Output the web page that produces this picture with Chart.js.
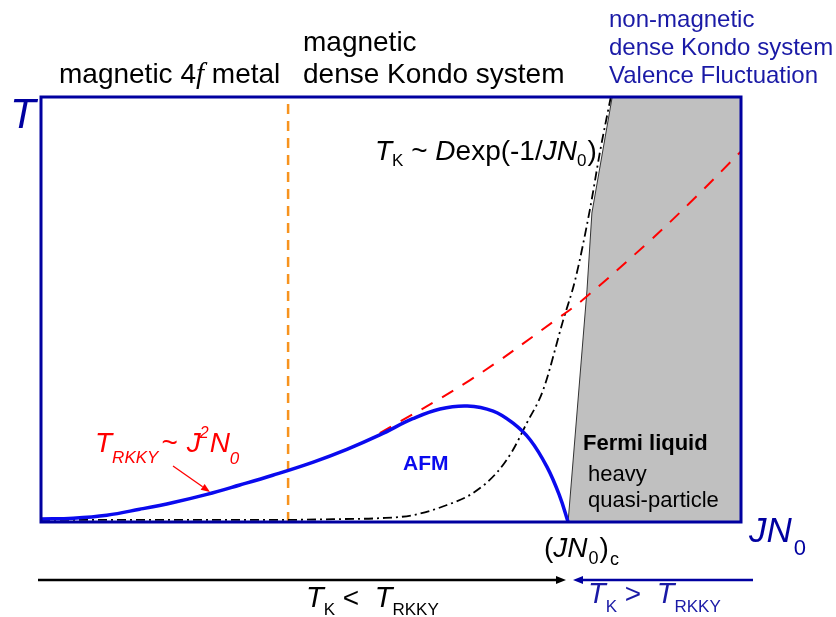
<!DOCTYPE html>
<html><head><meta charset="utf-8">
<script src="https://cdn.jsdelivr.net/npm/chart.js@4/dist/chart.umd.min.js"></script>
<style>html,body{margin:0;padding:0;background:#fff}#wrap{width:836px;height:617px}</style>
</head><body><div id="wrap"><canvas id="c" width="836" height="617"></canvas></div>
<script>
// JN0 (x, arbitrary units 0-10) and T (y, arbitrary units 0-10)
const afmX = [0, 0.46, 0.94, 1.41, 1.89, 2.37, 2.84, 3.31, 3.89, 4.37, 4.84, 5.31, 5.70, 6.09, 6.46, 6.74, 6.99, 7.23, 7.41, 7.53];
const afmT = [0.07, 0.09, 0.16, 0.30, 0.46, 0.65, 0.87, 1.10, 1.41, 1.71, 2.05, 2.43, 2.66, 2.73, 2.61, 2.33, 1.93, 1.29, 0.61, 0];
const rkkyX = [4.84, 6.13, 7.41, 7.77, 8.66, 9.27, 10];
const rkkyT = [2.09, 3.34, 4.82, 5.27, 6.56, 7.51, 8.72];
const kondoX = [0, 1.5, 3.41, 4.3, 4.84, 5.31, 5.80, 6.17, 6.51, 6.74, 6.94, 7.17, 7.46, 7.63, 7.84, 7.99, 8.14];
const kondoT = [0.05, 0.05, 0.05, 0.07, 0.09, 0.16, 0.40, 0.68, 1.16, 1.69, 2.33, 3.09, 4.75, 5.69, 7.34, 8.75, 10];
const flX = [7.53, 7.8, 7.87, 8.16, 10];
const flT = [0, 5.46, 7.27, 10, 10];
const crossoverX = [3.53, 3.53];
const crossoverT = [0, 10];
const xRange = [0, 10];
const tRange = [0, 10];

const regionLeft = "magnetic 4";
const regionMid = ["magnetic", "dense Kondo system"];
const regionRight = ["non-magnetic", "dense Kondo system", "Valence Fluctuation"];

const zip = (xs, ys) => xs.map((x, i) => ({x, y: ys[i]}));

const SANS = "'Liberation Sans', Arial, sans-serif";
function rich(ctx, x, y, parts, color) {
  ctx.save();
  ctx.fillStyle = color;
  ctx.textBaseline = 'alphabetic';
  ctx.textAlign = 'left';
  for (const p of parts) {
    ctx.font = (p.style || '') + ' ' + p.size + 'px ' + (p.family || SANS);
    ctx.fillText(p.t, x + (p.dx || 0), y + (p.dy || 0));
    x += ctx.measureText(p.t).width + (p.dx || 0);
  }
  ctx.restore();
}
function arrow(ctx, x1, y1, x2, y2, color, w, hl, hw) {
  ctx.save();
  ctx.strokeStyle = color; ctx.fillStyle = color; ctx.lineWidth = w;
  const a = Math.atan2(y2 - y1, x2 - x1);
  const bx = x2 - hl * Math.cos(a), by = y2 - hl * Math.sin(a);
  ctx.beginPath(); ctx.moveTo(x1, y1); ctx.lineTo(bx, by); ctx.stroke();
  ctx.beginPath(); ctx.moveTo(x2, y2);
  ctx.lineTo(bx + hw * Math.sin(a), by - hw * Math.cos(a));
  ctx.lineTo(bx - hw * Math.sin(a), by + hw * Math.cos(a));
  ctx.closePath(); ctx.fill();
  ctx.restore();
}

const deco = {
  id: 'deco',
  afterDatasetsDraw(chart) {
    const ctx = chart.ctx, a = chart.chartArea;
    ctx.save();
    ctx.strokeStyle = '#0000a0'; ctx.lineWidth = 3;
    ctx.strokeRect(a.left, a.top, a.right - a.left, a.bottom - a.top);
    ctx.restore();
  },
  afterDraw(chart) {
    const ctx = chart.ctx;
    const navy = '#0000a0', blueT = '#1a1aa6';
    // top region labels
    rich(ctx, 59, 83, [{t: regionLeft, size: 28}, {t: 'f', size: 29, style: 'italic', family: "'Liberation Serif', serif"}, {t: ' metal', size: 28}], '#000');
    rich(ctx, 303, 51, [{t: regionMid[0], size: 28}], '#000');
    rich(ctx, 303, 83, [{t: regionMid[1], size: 28}], '#000');
    regionRight.forEach((s, i) => rich(ctx, 609, 27 + 28 * i, [{t: s, size: 24}], blueT));
    // axis labels
    rich(ctx, 10, 128, [{t: 'T', size: 42, style: 'italic'}], navy);
    rich(ctx, 749, 542, [{t: 'JN', size: 35, style: 'italic'}, {t: '0', size: 22, dy: 13, dx: 2}], navy);
    rich(ctx, 544, 557, [{t: '(', size: 28}, {t: 'JN', size: 28, style: 'italic'}, {t: '0', size: 18, dy: 7, dx: 1}, {t: ')', size: 28, dx: 1}, {t: 'c', size: 18, dy: 8, dx: 1}], '#000');
    // formulas
    rich(ctx, 375, 160, [{t: 'T', size: 28, style: 'italic'}, {t: 'K', size: 17, dy: 6}, {t: ' ~ ', size: 28}, {t: 'D', size: 28, style: 'italic'}, {t: 'exp(-1/', size: 28}, {t: 'JN', size: 28, style: 'italic'}, {t: '0', size: 17, dy: 6}, {t: ')', size: 28, dx: 1}], '#000');
    rich(ctx, 95, 452, [{t: 'T', size: 28, style: 'italic'}, {t: 'RKKY', size: 17, style: 'italic', dy: 11}, {t: '~', size: 28, dx: 3}, {t: 'J', size: 28, style: 'italic', dx: 9}, {t: '2', size: 16, style: 'italic', dy: -14, dx: -1}, {t: 'N', size: 28, style: 'italic', dx: 1}, {t: '0', size: 17, style: 'italic', dy: 12}], '#ff0000');
    arrow(ctx, 173, 466, 210, 492, '#ff0000', 1.3, 9, 3.5);
    // phase labels
    rich(ctx, 403, 470, [{t: 'AFM', size: 21, style: 'bold'}], '#0a0aee');
    rich(ctx, 583, 450, [{t: 'Fermi liquid', size: 22, style: 'bold'}], '#000');
    rich(ctx, 588, 481, [{t: 'heavy', size: 22}], '#000');
    rich(ctx, 588, 507, [{t: 'quasi-particle', size: 22}], '#000');
    // regime arrows
    arrow(ctx, 38, 580, 566, 580, '#000', 2.5, 10, 4);
    arrow(ctx, 753, 580, 573, 580, navy, 2.5, 10, 4);
    rich(ctx, 306, 607, [{t: 'T', size: 29, style: 'italic'}, {t: 'K', size: 17, dy: 8}, {t: ' <  ', size: 28}, {t: 'T', size: 29, style: 'italic'}, {t: 'RKKY', size: 17, dy: 8}], '#000');
    rich(ctx, 588, 603, [{t: 'T', size: 29, style: 'italic'}, {t: 'K', size: 17, dy: 9}, {t: ' >  ', size: 28}, {t: 'T', size: 29, style: 'italic'}, {t: 'RKKY', size: 17, dy: 9}], blueT);
  }
};

new Chart(document.getElementById('c'), {
  type: 'line',
  data: {
    datasets: [
      {data: zip(afmX, afmT), borderColor: '#0a0aee', borderWidth: 3.5, tension: 0.4, pointRadius: 0, fill: false, order: 1},
      {data: zip(rkkyX, rkkyT), borderColor: '#ff0000', borderWidth: 2, borderDash: [13, 11], tension: 0.4, pointRadius: 0, fill: false, order: 2},
      {data: zip(kondoX, kondoT), borderColor: '#000', borderWidth: 1.8, borderDash: [9, 4, 2, 4], cubicInterpolationMode: 'monotone', pointRadius: 0, fill: false, order: 3},
      {data: zip(crossoverX, crossoverT), borderColor: '#f7931e', borderWidth: 2.5, borderDash: [10, 7], pointRadius: 0, fill: false, order: 4},
      {data: zip(flX, flT), borderColor: '#333', borderWidth: 1, backgroundColor: '#c0c0c0', tension: 0, pointRadius: 0, fill: 'start', order: 5}
    ]
  },
  options: {
    responsive: false, animation: false, devicePixelRatio: 1,
    layout: {padding: {left: 41, top: 97, right: 95, bottom: 95}},
    plugins: {legend: {display: false}, tooltip: {enabled: false}, title: {display: false}},
    scales: {
      x: {type: 'linear', min: xRange[0], max: xRange[1], display: false},
      y: {type: 'linear', min: tRange[0], max: tRange[1], display: false}
    }
  },
  plugins: [deco]
});
</script></body></html>
